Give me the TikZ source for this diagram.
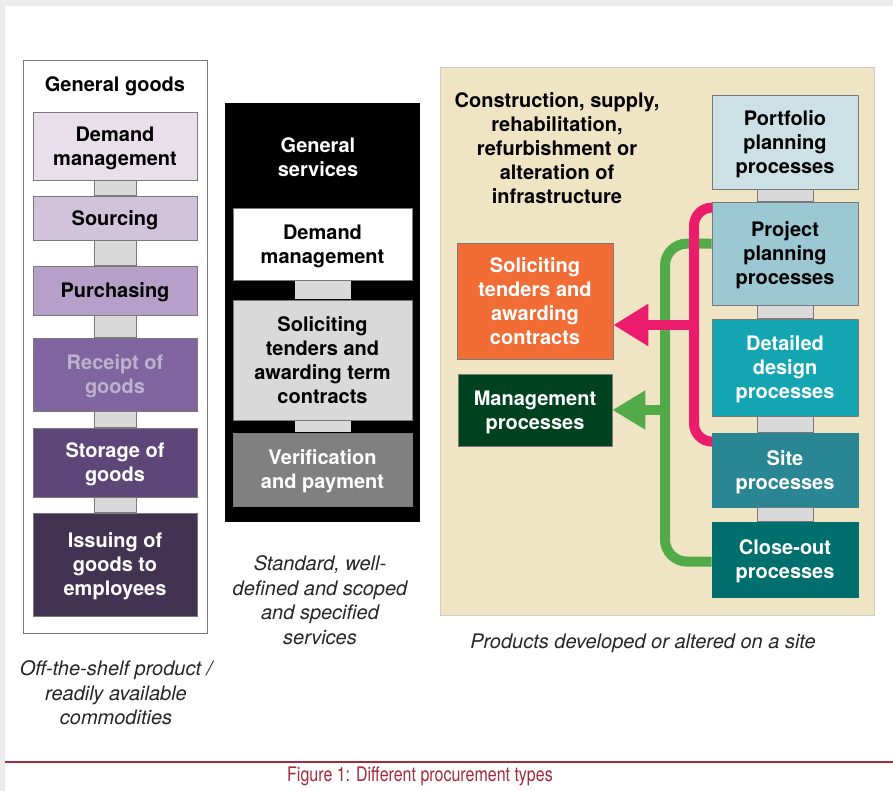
\documentclass[tikz,border=0pt]{standalone}
\usepackage{fontspec}
\setmainfont{TeX Gyre Heros}
\newfontfamily\condfont[FakeStretch=0.8]{TeX Gyre Heros}
\usetikzlibrary{arrows.meta,calc}
\definecolor{bordergray}{HTML}{7A7A7A}
\definecolor{bargray}{HTML}{D9D9D9}
\definecolor{gA}{HTML}{E8DFEA}
\definecolor{gB}{HTML}{D2C3DC}
\definecolor{gC}{HTML}{B6A0C9}
\definecolor{gD}{HTML}{80649F}
\definecolor{gDtext}{HTML}{BDB2CB}
\definecolor{gE}{HTML}{5E4778}
\definecolor{gF}{HTML}{433352}
\definecolor{beige}{HTML}{EFE4C3}
\definecolor{cPort}{HTML}{CCE1E6}
\definecolor{cProj}{HTML}{9BC8D2}
\definecolor{cDet}{HTML}{14A5B3}
\definecolor{cSite}{HTML}{2A8692}
\definecolor{cClose}{HTML}{006F6E}
\definecolor{cOrange}{HTML}{F26D36}
\definecolor{cMgmt}{HTML}{00421F}
\definecolor{cPink}{HTML}{EC1C6C}
\definecolor{cGreen}{HTML}{52AA48}
\definecolor{capred}{HTML}{A6293C}
\tikzset{
  box/.style={draw=bordergray, line width=0.8pt, align=center, inner sep=0pt, text depth=-3pt,
    font=\bfseries\fontsize{20}{24}\selectfont},
  bar/.style={fill=bargray, draw=bordergray, line width=0.8pt},
  title/.style={align=center, inner sep=0pt, font=\bfseries\fontsize{20}{24}\selectfont},
  capt/.style={align=center, inner sep=0pt, text=black!85, font=\itshape\fontsize{20}{24.5}\selectfont},
  pinkline/.style={draw=cPink, line width=10pt},
  greenline/.style={draw=cGreen, line width=10pt},
}
\begin{document}
\begin{tikzpicture}[x=1pt,y=-1pt]
\useasboundingbox (0,0) rectangle (893,791);
% page background with faint shadow
\fill[black!7] (0,0) rectangle (893,791);
\fill[white] (5,6) rectangle (893,791);

% ---------- left column: general goods ----------
\draw[draw=bordergray, line width=0.8pt, fill=white] (23,60) rectangle (207,633);
\node[title] (gg) at (115,86) {General goods};
\node[box, fill=gA, minimum width=164pt, minimum height=68pt] (dm1) at (115,146) {Demand\\management};
\node[box, fill=gB, minimum width=164pt, minimum height=44pt] (src) at (115,218) {Sourcing};
\node[box, fill=gC, minimum width=164pt, minimum height=49pt] (pur) at (115,290.5) {Purchasing};
\node[box, fill=gD, text=gDtext, minimum width=164pt, minimum height=73pt] (rec) at (115,374.5) {Receipt of\\goods};
\node[box, fill=gE, text=white, minimum width=164pt, minimum height=69pt] (sto) at (115,462.5) {Storage of\\goods};
\node[box, fill=gF, text=white, minimum width=164pt, minimum height=103pt] (iss) at (115,564.5) {Issuing of\\goods to\\employees};
\draw[bar] ($(dm1.south)+(-21,0)$) rectangle ($(src.north)+(21,0)$);
\draw[bar] ($(src.south)+(-21,0)$) rectangle ($(pur.north)+(21,0)$);
\draw[bar] ($(pur.south)+(-21,0)$) rectangle ($(rec.north)+(21,0)$);
\draw[bar] ($(rec.south)+(-21,0)$) rectangle ($(sto.north)+(21,0)$);
\draw[bar] ($(sto.south)+(-21,0)$) rectangle ($(iss.north)+(21,0)$);
\node[capt] (cap1) at (116,693) {Off-the-shelf product /\\readily available\\commodities};

% ---------- middle column: general services ----------
\fill[black] (225,103) rectangle (420,522);
\node[title, text=white] (gs) at (318,157.5) {General\\services};
\node[box, fill=white, minimum width=179pt, minimum height=72pt] (dm2) at (322.5,244) {Demand\\management};
\node[box, fill=bargray, minimum width=179pt, minimum height=120pt] (sol2) at (322.5,360) {Soliciting\\tenders and\\awarding term\\contracts};
\node[box, fill=black!50, text=white, minimum width=179pt, minimum height=73pt] (ver) at (322.5,469.5) {Verification\\and payment};
\fill[bargray] ($(dm2.south)+(-28,0.4)$) rectangle ($(sol2.north)+(28,-0.4)$);
\fill[bargray] ($(sol2.south)+(-28,0.4)$) rectangle ($(ver.north)+(28,-0.4)$);
\node[capt] (cap2) at (320,600) {Standard, well-\\defined and scoped\\and specified\\services};

% ---------- right panel: infrastructure ----------
\draw[fill=beige, draw=black!20, line width=0.8pt] (440,67) rectangle (874,615);
\node[title] (inf) at (557,148) {Construction, supply,\\rehabilitation,\\refurbishment or\\alteration of\\infrastructure};
\node[box, fill=cPort, minimum width=146pt, minimum height=94pt] (port) at (785,142) {Portfolio\\planning\\processes};
\node[box, fill=cProj, minimum width=146pt, minimum height=103pt] (proj) at (785,253.5) {Project\\planning\\processes};
\node[box, fill=cDet, text=white, minimum width=146pt, minimum height=97pt] (det) at (785,367.5) {Detailed\\design\\processes};
\node[box, fill=cSite, draw=cSite, text=white, minimum width=146pt, minimum height=74pt] (site) at (785,470) {Site\\processes};
\node[box, fill=cClose, draw=cClose, text=white, minimum width=146pt, minimum height=75pt] (close) at (785,559.5) {Close-out\\processes};
\draw[bar] ($(port.south)+(-28,0)$) rectangle ($(proj.north)+(28,0)$);
\draw[bar] ($(proj.south)+(-28,0)$) rectangle ($(det.north)+(28,0)$);
\draw[bar] ($(det.south)+(-28,0)$) rectangle ($(site.north)+(28,0)$);
\draw[bar] ($(site.south)+(-28,0)$) rectangle ($(close.north)+(28,0)$);

\node[box, fill=cOrange, text=white, minimum width=156pt, minimum height=116pt] (sol3) at (535,301) {Soliciting\\tenders and\\awarding\\contracts};
\node[box, fill=cMgmt, text=white, minimum width=154pt, minimum height=72pt] (mgmt) at (535,410) {Management\\processes};

% connectors
\coordinate (gj) at (665,410);
\coordinate (pj) at (694,325);
\draw[greenline, rounded corners=22pt] ($(proj.north west)+(0,42)$) -| (gj) |- ($(close.north west)+(0,40)$);
\draw[greenline, -{Triangle[length=33pt,width=37pt]}] (gj) -- (mgmt.east |- gj);
\draw[pinkline, rounded corners=18pt] ($(proj.north west)+(0,6)$) -| (pj) |- ($(site.north west)+(0,9)$);
\draw[pinkline, -{Triangle[length=35pt,width=40pt]}] ($(pj)+(5,0)$) -- (sol3.east |- pj);

\node[capt] (cap3) at (643,643) {Products developed or altered on a site};

% caption
\draw[capred, line width=1.6pt] (5,762) -- (893,762);
\node[inner sep=0pt, text=capred, font=\condfont\fontsize{20}{24}\selectfont] (fig) at (420,776) {Figure 1: Different procurement types};
\end{tikzpicture}
\end{document}
